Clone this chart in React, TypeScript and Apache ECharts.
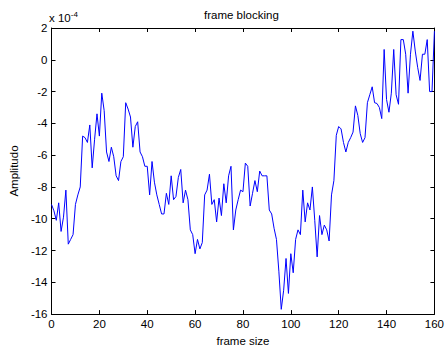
import React, { useEffect, useRef } from "react";
import * as echarts from "echarts";

// Amplitude values in units of 1e-4, one per frame index 0..160
const amplitudes: number[] = [
  -9.1, -9.5, -10.1, -9.0, -10.8, -9.9, -8.2, -11.6, -11.3, -11.0,
  -9.1, -8.5, -8.0, -4.8, -4.9, -5.2, -4.1, -6.8, -5.0, -3.4,
  -4.8, -2.1, -3.2, -5.8, -6.4, -5.5, -6.1, -7.3, -7.6, -6.4,
  -6.1, -2.7, -3.1, -3.6, -5.5, -4.2, -3.9, -5.8, -6.1, -6.7,
  -6.7, -8.5, -6.4, -7.7, -8.5, -9.1, -9.7, -9.7, -8.4, -9.1,
  -7.3, -8.8, -8.6, -7.4, -6.9, -9.0, -8.2, -8.8, -10.7, -11.0,
  -12.2, -11.3, -11.9, -11.5, -8.5, -8.2, -7.2, -9.1, -8.8, -10.2,
  -8.7, -9.8, -7.8, -9.0, -7.3, -6.7, -10.7, -9.45, -8.8, -8.2,
  -8.3, -6.5, -6.7, -9.2, -8.4, -7.6, -8.3, -7.0, -7.3, -7.3,
  -7.3, -9.45, -9.7, -10.6, -11.3, -13.3, -15.7, -14.5, -12.5, -14.7,
  -12.2, -13.4, -11.3, -10.7, -11.0, -8.2, -10.2, -9.0, -9.45, -8.0,
  -10.1, -12.4, -9.8, -11.0, -10.4, -10.7, -11.4, -8.5, -7.6, -4.75,
  -4.2, -4.35, -5.2, -5.8, -5.2, -4.9, -4.55, -2.9, -3.5, -4.65,
  -5.2, -4.9, -2.7, -2.2, -1.7, -2.7, -2.75, -3.0, -3.7, 0.65,
  -2.5, -3.3, -2.1, 0.65, -2.2, -2.8, 1.27, 1.27, 0.35, -2.1,
  0.35, 1.8, 0.55, -0.47, -1.3, 0.35, 0.35, 1.27, -2.0, -2.0,
  1.8,
];

const chartTitle = "frame blocking";
const xName = "frame size";
const yName = "Amplitudo";
const xMin = 0;
const xMax = 160;
const xStep = 20;
const yMin = -16;
const yMax = 2;
const yStep = 2;

const FONT = "'Liberation Sans', Arial, Helvetica, sans-serif";

export default function App() {
  const ref = useRef<HTMLDivElement>(null);

  useEffect(() => {
    if (!ref.current) return;
    const chart = echarts.init(ref.current, null, { renderer: "svg" });
    const points = amplitudes.map((v, i) => [i, v]);

    const tickCommon = {
      show: true,
      inside: true,
      length: 4,
      lineStyle: { color: "#000", width: 1 },
    };
    const lineCommon = { show: true, onZero: false, lineStyle: { color: "#000", width: 1 } };

    chart.setOption({
      animation: false,
      backgroundColor: "#fff",
      textStyle: { fontFamily: FONT },
      grid: { left: 49, top: 28, width: 388, height: 294, containLabel: false },
      graphic: [
        {
          type: "text",
          left: 204,
          top: 9,
          style: {
            text: chartTitle,
            fill: "#000",
            font: `11.5px ${FONT}`,
          },
        },
        {
          type: "text",
          left: 49,
          top: 10,
          style: {
            text: "x 10{sup|-4}",
            fill: "#000",
            font: `11.5px ${FONT}`,
            rich: {
              sup: { fontSize: 8, fontFamily: FONT, verticalAlign: "top", padding: [0, 0, 7, 0] },
            },
          },
        },
      ],
      xAxis: [
        {
          type: "value",
          min: xMin,
          max: xMax,
          interval: xStep,
          position: "bottom",
          name: xName,
          nameLocation: "middle",
          nameGap: 18,
          nameTextStyle: { color: "#000", fontSize: 11.5, fontFamily: FONT },
          axisLine: lineCommon,
          axisTick: tickCommon,
          axisLabel: { color: "#000", fontSize: 11.5, fontFamily: FONT, margin: 4 },
          splitLine: { show: false },
        },
        {
          type: "value",
          min: xMin,
          max: xMax,
          interval: xStep,
          position: "top",
          axisLine: lineCommon,
          axisTick: tickCommon,
          axisLabel: { show: false },
          splitLine: { show: false },
        },
      ],
      yAxis: [
        {
          type: "value",
          min: yMin,
          max: yMax,
          interval: yStep,
          position: "left",
          name: yName,
          nameLocation: "middle",
          nameGap: 28,
          nameTextStyle: { color: "#000", fontSize: 11.5, fontFamily: FONT },
          axisLine: lineCommon,
          axisTick: tickCommon,
          axisLabel: { color: "#000", fontSize: 11.5, fontFamily: FONT, margin: 4 },
          splitLine: { show: false },
        },
        {
          type: "value",
          min: yMin,
          max: yMax,
          interval: yStep,
          position: "right",
          axisLine: lineCommon,
          axisTick: tickCommon,
          axisLabel: { show: false },
          splitLine: { show: false },
        },
      ],
      series: [
        {
          type: "line",
          data: points,
          xAxisIndex: 0,
          yAxisIndex: 0,
          showSymbol: false,
          symbol: "none",
          lineStyle: { color: "#0000ff", width: 1 },
        },
      ],
    });

    return () => chart.dispose();
  }, []);

  return (
    <div
      ref={ref}
      style={{ position: "fixed", left: 0, top: 0, width: 447, height: 352, background: "#fff" }}
    />
  );
}
